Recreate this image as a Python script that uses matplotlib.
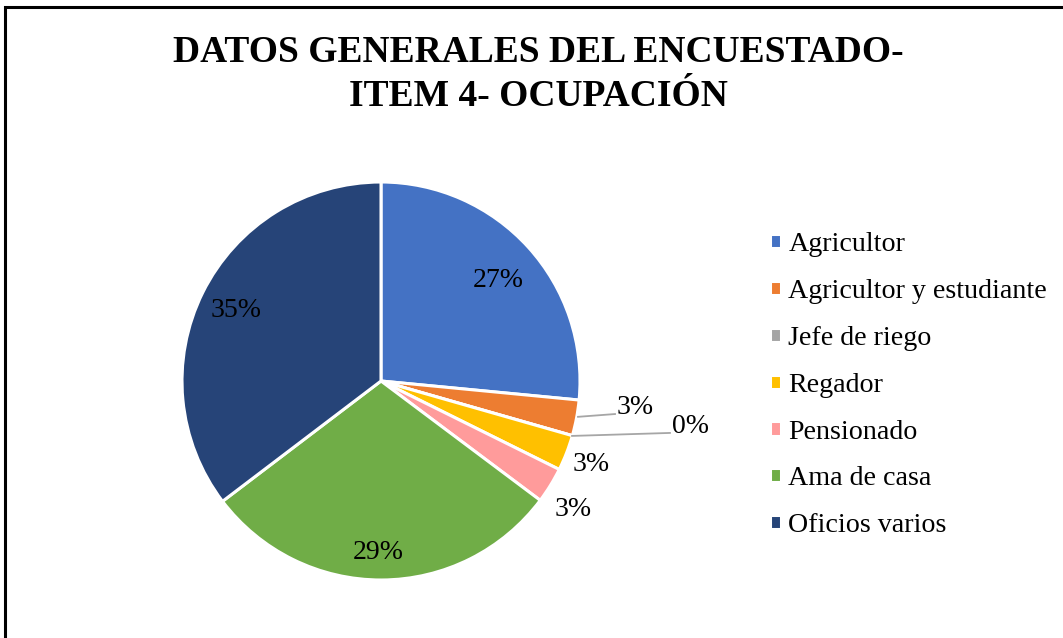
import matplotlib.pyplot as plt
from matplotlib.patches import Rectangle

# === Data ===
categorias = ["Agricultor", "Agricultor y estudiante", "Jefe de riego", "Regador",
              "Pensionado", "Ama de casa", "Oficios varios"]
porcentajes = [26.5, 2.9, 0.0, 2.9, 2.9, 29.4, 35.3]
colores = ["#4472c4", "#ed7d31", "#a5a5a5", "#ffc000", "#ff9b9b", "#70ad47", "#264478"]

# label placement (fraction of radius) - Excel "best fit" look
pos_etiquetas = [(0.588, 0.503), (1.276, -0.131), (1.553, -0.231), (1.055, -0.422),
                 (0.965, -0.648), (-0.015, -0.864), (-0.729, 0.352)]

plt.rcParams["font.family"] = ["Liberation Serif", "DejaVu Serif"]

W, H = 1063, 638
fig = plt.figure(figsize=(W / 100, H / 100), dpi=100)

# outer frame (cropped at right and bottom like the original)
fig.patches.append(Rectangle((5 / W, -0.1), 1.2, 1 - 7 / H + 0.1, transform=fig.transFigure,
                             fill=False, edgecolor="black", linewidth=2.2))

# === Pie ===
cx, cy, r = 381, 381, 199
ax = fig.add_axes([(cx - r) / W, (H - cy - r) / H, 2 * r / W, 2 * r / H])
wedges, _ = ax.pie(porcentajes, colors=colores, startangle=90, counterclock=False,
                   wedgeprops=dict(edgecolor="white", linewidth=2.2))
ax.set_xlim(-1, 1)
ax.set_ylim(-1, 1)

for v, (x, y) in zip(porcentajes, pos_etiquetas):
    # Excel rounds half up
    ax.text(x, y, f"{int(v + 0.5)}%", ha="center", va="center", fontsize=20,
            color="#000000")

# leader lines for the thin slices
ax.plot([0.99, 1.176], [-0.18, -0.166], color="#a6a6a6", lw=1.3, clip_on=False)
ax.plot([0.96, 1.452], [-0.276, -0.261], color="#a6a6a6", lw=1.3, clip_on=False)

# === Title ===
fig.text(538 / W, 1 - 53 / H, "DATOS GENERALES DEL ENCUESTADO-", ha="center", va="center",
         fontsize=27, fontweight="bold")
fig.text(538 / W, 1 - 96 / H, "ITEM 4- OCUPACIÓN", ha="center", va="center",
         fontsize=27, fontweight="bold")

# === Legend ===
fig.legend(wedges, categorias, loc="upper left", bbox_to_anchor=(770 / W, 1 - 232 / H),
           frameon=False, fontsize=20.2, handlelength=0.4, handleheight=0.4,
           handletextpad=0.25, labelspacing=0.78, borderpad=0, borderaxespad=0)

plt.savefig("out.png", dpi=100)
